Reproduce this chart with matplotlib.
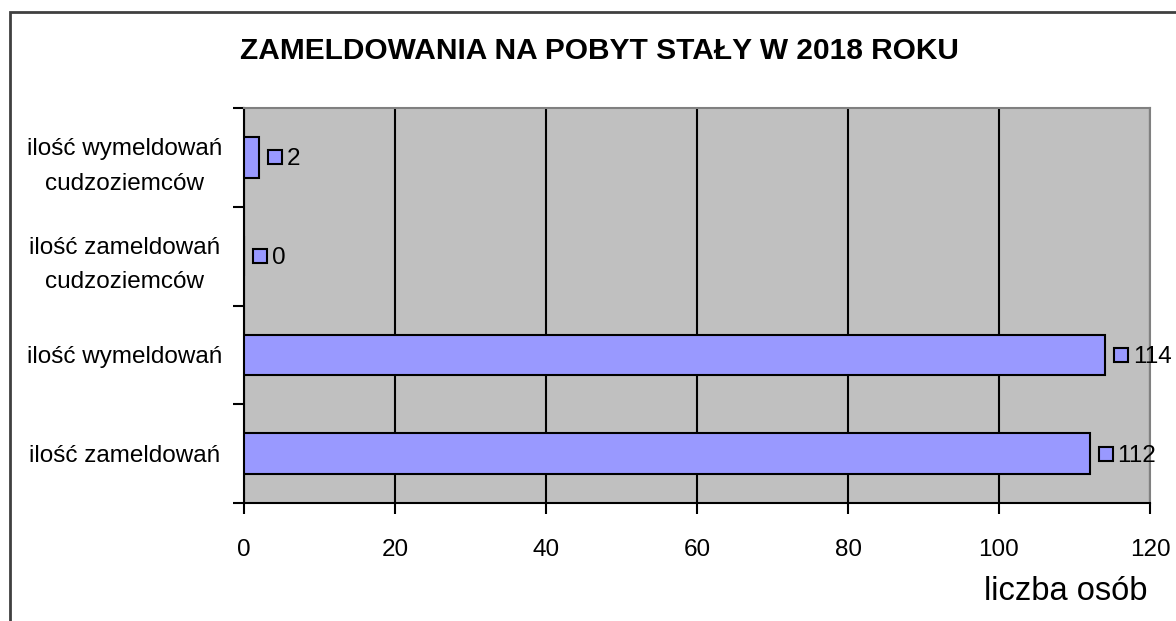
import numpy as np
import matplotlib
matplotlib.use("Agg")
import matplotlib.pyplot as plt
from matplotlib.patches import Rectangle

plt.rcParams["font.family"] = ["Liberation Sans", "DejaVu Sans"]

# data, bottom to top
categories = ["ilość zameldowań", "ilość wymeldowań",
              "ilość zameldowań\ncudzoziemców", "ilość wymeldowań\ncudzoziemców"]
values = [112, 114, 0, 2]
x_ticks = [0, 20, 40, 60, 80, 100, 120]

bar_color = "#9999FF"

fig = plt.figure(figsize=(11.76, 6.21), dpi=100)
ax = fig.add_axes([244 / 1176, 1 - 503 / 621, 906 / 1176, 395 / 621])
ax.set_facecolor("#C0C0C0")

y = np.arange(len(categories))
ax.barh(y, values, height=0.41, color=bar_color, edgecolor="black", linewidth=1.5, zorder=3)

# value labels with little legend keys
shift = matplotlib.transforms.ScaledTranslation(16 / 100, 0, fig.dpi_scale_trans)
for yi, v in zip(y, values):
    ax.plot([v], [yi], marker="s", ms=10.5, mfc=bar_color, mec="black", mew=1.5,
            transform=ax.transData + shift, clip_on=False, zorder=4)
    ax.annotate(str(v), xy=(v, yi), xytext=(28, -2), textcoords="offset pixels",
                ha="left", va="center", fontsize=17.5, zorder=4, annotation_clip=False)

ax.set_xlim(0, 120)
ax.set_ylim(-0.5, 3.5)
ax.set_xticks(x_ticks)
ax.set_xticklabels([str(t) for t in x_ticks])
ax.grid(axis="x", color="black", linewidth=1.5, zorder=1)

ax.set_yticks(np.arange(-0.5, 4, 1))
ax.set_yticklabels([])
ax.set_yticks(y, minor=True)
ax.set_yticklabels(categories, minor=True, fontsize=17.5, ha="center", linespacing=1.75)
ax.tick_params(axis="y", which="major", length=8, width=1.5, direction="out")
ax.tick_params(axis="y", which="minor", length=0, pad=86)
ax.tick_params(axis="x", length=8, width=1.5, direction="out", pad=18, labelsize=17.5)

for s in ["left", "bottom"]:
    ax.spines[s].set_color("black")
    ax.spines[s].set_linewidth(1.5)
for s in ["right", "top"]:
    ax.spines[s].set_color("#808080")
    ax.spines[s].set_linewidth(1.5)

fig.text(599 / 1176, 1 - 51 / 621, "ZAMELDOWANIA NA POBYT STAŁY W 2018 ROKU",
         ha="center", va="center", fontsize=21.5, fontweight="bold")
fig.text(1148 / 1176, 1 - 592 / 621, "liczba osób", ha="right", va="center", fontsize=23.5)

# outer chart border (cut off at right and bottom)
fig.patches.append(Rectangle((10 / 1176, -0.1), 1.2, 1 - 12 / 621 + 0.1, fill=False,
                             edgecolor="#404040", linewidth=2, transform=fig.transFigure, figure=fig))

fig.savefig("out.png", dpi=100)
